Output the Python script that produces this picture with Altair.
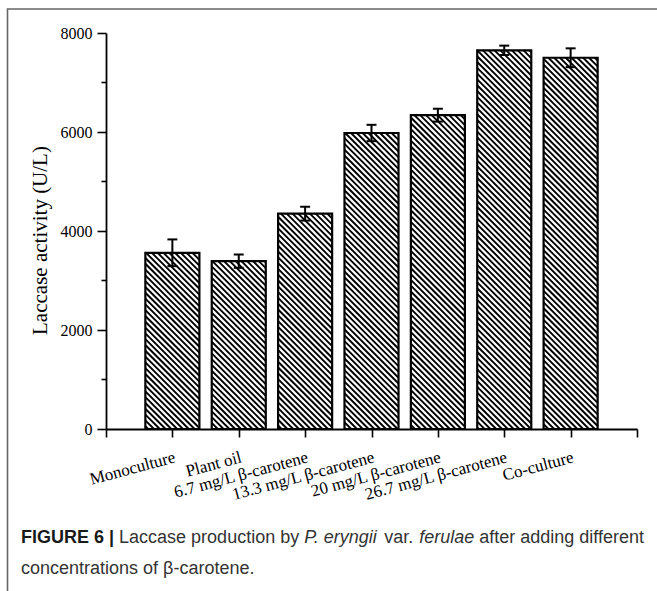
import altair as alt
import pandas as pd

# ---------------- data ----------------
categories = ["Monoculture", "Plant oil", "6.7 mg/L β-carotene", "13.3 mg/L β-carotene",
              "20 mg/L β-carotene", "26.7 mg/L β-carotene", "Co-culture"]
activity = [3560, 3390, 4350, 5980, 6340, 7650, 7500]
errors = [270, 135, 140, 165, 130, 95, 190]
x_ticks = [0, 1, 2, 3, 4, 5, 6, 7, 8]
y_major = [0, 2000, 4000, 6000, 8000]
y_minor = [1000, 3000, 5000, 7000]

# ---------------- layout constants ----------------
W, H = 531, 396
XMAX, YMAX = 8, 8000
PX = W / XMAX
PY = H / YMAX
HALF = 0.407      # half bar width (x units)
CAP = 0.075       # half cap width (x units)
S = 5.8           # hatch period (px)
SERIF = "Liberation Serif"
SANS = "Liberation Sans"

df = pd.DataFrame({"idx": list(range(1, len(categories) + 1)), "cat": categories,
                   "value": activity, "err": errors})

xscale = alt.Scale(domain=[0, XMAX], nice=False, zero=False)
yscale = alt.Scale(domain=[0, YMAX], nice=False)

label_arr = "[" + ",".join(["''"] + ["'" + c + "'" for c in categories] + ["''"]) + "]"
x_axis = alt.Axis(values=x_ticks, labelExpr=label_arr + "[datum.value]", title=None,
                  labelAngle=345, labelAlign="right", labelBaseline="top", labelPadding=12,
                  labelFont=SERIF, labelFontSize=17, labelColor="black", labelFlush=False,
                  labelOverlap=False, tickSize=8, tickWidth=1.6, tickColor="black",
                  domainColor="black", domainWidth=1.8, grid=False)
y_axis = alt.Axis(values=y_major, format="d", title="Laccase activity (U/L)",
                  titleFont=SERIF, titleFontSize=21, titleFontWeight="normal", titleColor="black",
                  titleX=-66, titleY=207, titleAngle=270, titleAlign="center", titleBaseline="middle",
                  labelFont=SERIF, labelFontSize=16, labelColor="black", labelPadding=5,
                  tickSize=9, tickWidth=1.6, tickColor="black",
                  domainColor="black", domainWidth=1.8, grid=False)

base = alt.Chart(df)

bars = (
    base.transform_calculate(xl=f"datum.idx - {HALF}", xr=f"datum.idx + {HALF}", zero="0")
    .mark_rect(fill="transparent", stroke="black", strokeWidth=2.2)
    .encode(x=alt.X("xl:Q", scale=xscale, axis=x_axis), x2="xr:Q",
            y=alt.Y("value:Q", scale=yscale, axis=y_axis), y2="zero:Q")
)

# hatch lines clipped to each bar (45 degree "\" lines)
hatch = (
    base.transform_calculate(k="sequence(-70, 94)")
    .transform_flatten(["k"])
    .transform_calculate(c=f"datum.k * {S}")
    .transform_calculate(L=f"(datum.idx - {HALF}) * {PX}")
    .transform_calculate(R=f"(datum.idx + {HALF}) * {PX}")
    .transform_calculate(T=f"({YMAX} - datum.value) * {PY}")
    .transform_calculate(B=f"{YMAX} * {PY}")
    .transform_calculate(xs="max(datum.L, datum.T + datum.c)")
    .transform_calculate(xe="min(datum.R, datum.B + datum.c)")
    .transform_filter("datum.xs < datum.xe")
    .transform_calculate(hx=f"datum.xs / {PX}")
    .transform_calculate(hx2=f"datum.xe / {PX}")
    .transform_calculate(hy=f"{YMAX} - (datum.xs - datum.c) / {PY}")
    .transform_calculate(hy2=f"{YMAX} - (datum.xe - datum.c) / {PY}")
    .mark_rule(color="black", strokeWidth=1.9)
    .encode(x=alt.X("hx:Q", scale=xscale, axis=x_axis), x2="hx2:Q",
            y=alt.Y("hy:Q", scale=yscale, axis=y_axis), y2="hy2:Q")
)

err_line = (
    base.transform_calculate(lo="datum.value - datum.err", hi="datum.value + datum.err")
    .mark_rule(color="black", strokeWidth=2)
    .encode(x=alt.X("idx:Q", scale=xscale, axis=x_axis),
            y=alt.Y("lo:Q", scale=yscale, axis=y_axis), y2="hi:Q")
)
cap_hi = (
    base.transform_calculate(hi="datum.value + datum.err",
                             cl=f"datum.idx - {CAP}", cr=f"datum.idx + {CAP}")
    .mark_rule(color="black", strokeWidth=2)
    .encode(x=alt.X("cl:Q", scale=xscale, axis=x_axis), x2="cr:Q",
            y=alt.Y("hi:Q", scale=yscale, axis=y_axis))
)
cap_lo = (
    base.transform_calculate(lo="datum.value - datum.err",
                             cl=f"datum.idx - {CAP}", cr=f"datum.idx + {CAP}")
    .mark_rule(color="black", strokeWidth=2)
    .encode(x=alt.X("cl:Q", scale=xscale, axis=x_axis), x2="cr:Q",
            y=alt.Y("lo:Q", scale=yscale, axis=y_axis))
)

minor = (
    alt.Chart(pd.DataFrame({"v": y_minor}))
    .mark_rule(color="black", strokeWidth=1.6)
    .encode(y=alt.Y("v:Q", scale=yscale, axis=y_axis), x=alt.value(-4.5), x2=alt.value(0))
)

# figure frame (top and left edges; right/bottom run off the page)
one = pd.DataFrame({"a": [0]})
frame = alt.Chart(one).mark_rect(fill="transparent", stroke="#666666", strokeWidth=1.6).encode(
    x=alt.value(-98.5), x2=alt.value(700), y=alt.value(-24), y2=alt.value(700))

# caption (rich text pieces)
REG = {' ': 278, '|': 260, '.': 278, '-': 333, 'a': 556, 'b': 556, 'c': 500, 'd': 556, 'e': 556,
       'f': 278, 'g': 556, 'h': 556, 'i': 222, 'l': 222, 'n': 556, 'o': 556, 'p': 556, 'r': 333,
       's': 500, 't': 278, 'u': 556, 'v': 500, 'y': 500, 'L': 556, 'P': 667}
BOLD = {'F': 611, 'I': 278, 'G': 778, 'U': 722, 'R': 722, 'E': 667, ' ': 278, '6': 556, '|': 280}
FS = 18


def tw(s, table):
    return sum(table.get(ch, 556) for ch in s) / 1000 * FS


segments = [("FIGURE 6 |", "bold"), ("Laccase production by", "normal"), ("P. eryngii", "italic"),
            ("var.", "normal"), ("ferulae", "italic"), ("after adding different", "normal")]
cap_layers = []
cx = 21 - 106
y1 = 543 - 33
y2 = 574 - 33
for text, style in segments:
    table = BOLD if style == "bold" else REG
    cap_layers.append(
        alt.Chart(one).mark_text(
            align="left", baseline="alphabetic", font=SANS, fontSize=FS,
            fontWeight="bold" if style == "bold" else "normal",
            fontStyle="italic" if style == "italic" else "normal",
            color="#1a1a1a" if style == "bold" else "#333333")
        .encode(x=alt.value(cx), y=alt.value(y1), text=alt.value(text))
    )
    cx += tw(text, table) + REG[' '] / 1000 * FS
cap_layers.append(
    alt.Chart(one).mark_text(align="left", baseline="alphabetic", font=SANS, fontSize=FS,
                             color="#333333")
    .encode(x=alt.value(21 - 106), y=alt.value(y2), text=alt.value("concentrations of β-carotene."))
)

chart = alt.layer(bars, hatch, err_line, cap_hi, cap_lo, minor, frame, *cap_layers).properties(
    width=W, height=H,
    padding={"left": 106, "top": 33, "right": 20, "bottom": 162},
    autosize=alt.AutoSizeParams(type="none"),
    background="white",
).configure_view(stroke=None)

chart.save("out.html", embed_options={"renderer": "svg", "actions": False})
